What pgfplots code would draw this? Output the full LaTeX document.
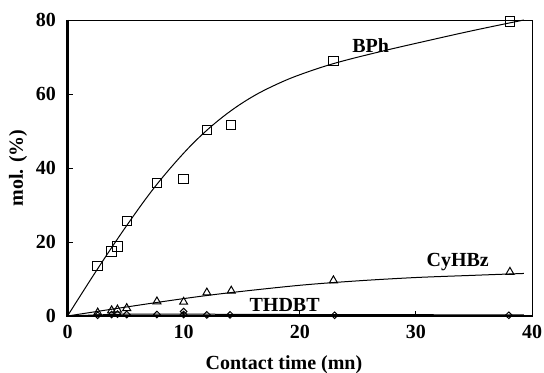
\documentclass[border=0pt]{standalone}
\usepackage{fontspec}
\setmainfont{Liberation Serif}
\usepackage{pgfplots}
\pgfplotsset{compat=1.18}
\begin{document}
\begin{tikzpicture}
\useasboundingbox (-67.5bp,-57bp) rectangle (476.5bp,316bp);
\begin{axis}[
  scale only axis,
  width=464.5bp, height=296bp,
  xmin=0, xmax=40, ymin=0, ymax=80,
  xtick={0,10,20,30,40}, ytick={0,20,40,60,80},
  xtick pos=bottom, ytick pos=left,
  tick align=inside, major tick length=5bp,
  axis line style={line width=0.8bp},
  tick style={line width=0.8bp, black},
  /pgf/number format/assume math mode=true,
  ticklabel style={font=\fontsize{20bp}{22bp}\selectfont\bfseries},
  yticklabel style={xshift=-8bp},
  xticklabel style={yshift=-6bp},
  label style={font=\fontsize{20bp}{22bp}\selectfont\bfseries},
  xlabel={Contact time (mn)},
  ylabel={mol. (\%)},
  xlabel style={at={(axis description cs:0.466,-0.163)}, anchor=center},
  ylabel style={at={(axis description cs:-0.1066,0.5)}, anchor=center},
  clip=false,
]
% thick left and bottom axis lines
\draw[line width=2.4bp] (rel axis cs:0,1) -- (rel axis cs:0,0) -- (rel axis cs:1,0);

% BPh data
\addplot[only marks, mark=square, mark size=4.7bp, mark options={line width=1bp, fill=white}] coordinates {
(2.6,13.5) (3.8,17.4) (4.3,18.8) (5.1,25.6) (7.7,35.9) (10.0,37.0) (12.0,50.3) (14.1,51.7) (22.9,68.9) (38.1,79.6)
};
% BPh curve
\addplot[smooth, tension=0.6, line width=1bp, no marks] coordinates {
(0,0) (2.5,12.3) (5,24.0) (7.5,34.8) (10,44.0) (12,50.2) (14,55.3) (16,59.4) (18,62.6) (20,65.2) (23,68.3) (27,71.5) (31,74.4) (35,77.2) (39.3,80.0)
};

% CyHBz data
\addplot[only marks, mark=triangle, mark size=4.6bp, mark options={line width=1bp}] coordinates {
(2.6,0.9) (3.8,1.5) (4.3,1.7) (5.1,2.1) (7.7,3.9) (10.0,3.8) (12.0,6.3) (14.1,6.8) (22.9,9.6) (38.1,11.9)
};
% CyHBz curve
\addplot[smooth, line width=1bp, no marks] coordinates {
(0,0) (5,2.4) (10,4.7) (14,6.3) (20,8.3) (25,9.5) (30,10.4) (35,11.0) (39.3,11.5)
};

% THDBT data
\addplot[only marks, mark=diamond, mark size=3.3bp, mark options={line width=1bp, xscale=1.35}] coordinates {
(2.6,0.2) (3.8,0.4) (4.3,0.5) (5.1,0.4) (7.7,0.4) (10.0,1.2) (10.0,0.4) (12.0,0.3) (14.0,0.3) (23.0,0.2) (38.0,0.2)
};
% THDBT curve
\addplot[smooth, line width=1bp, no marks] coordinates {
(0,0) (5,0.5) (10,0.5) (20,0.4) (39.3,0.3)
};

\node[font=\fontsize{20bp}{22bp}\selectfont\bfseries] at (axis cs:26.1,73) {BPh};
\node[font=\fontsize{20bp}{22bp}\selectfont\bfseries] at (axis cs:33.6,14.6) {CyHBz};
\node[font=\fontsize{20bp}{22bp}\selectfont\bfseries] at (axis cs:18.7,2.9) {THDBT};
\end{axis}
\end{tikzpicture}
\end{document}
